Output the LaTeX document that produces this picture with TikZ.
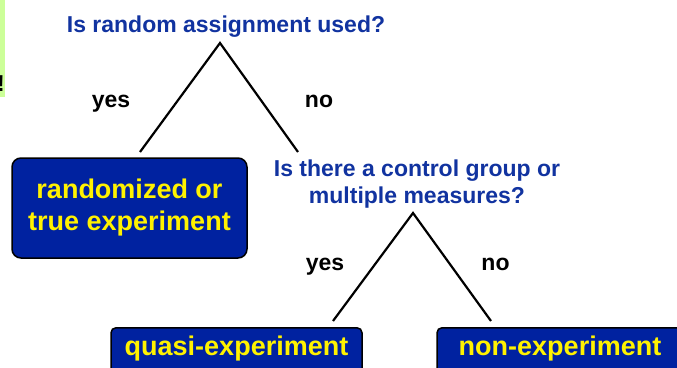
\documentclass[tikz,border=0pt]{standalone}
\usepackage{fontspec}
\setmainfont{Liberation Sans}
\definecolor{qblue}{HTML}{1133A0}
\definecolor{boxblue}{HTML}{0022A0}
\definecolor{notegreen}{HTML}{CCFF99}
\tikzset{question/.style = {text=qblue, font=\bfseries\fontsize{23}{27}\selectfont,
                            align=center, inner sep=0pt},
         answer/.style   = {font=\bfseries\fontsize{23}{27}\selectfont, inner sep=0pt},
         result/.style   = {draw=black, line width=1.5pt, fill=boxblue, text=yellow,
                            font=\bfseries\fontsize{27}{32}\selectfont, align=center},
         lowresult/.style = {result, rounded corners=5pt, anchor=north, inner ysep=3pt,
                             text height=25pt, text depth=25pt},
         branch/.style   = {line width=2.2pt, line join=miter}}

\begin{document}
\begin{tikzpicture}[x=1pt, y={(0pt,-1pt)}]
    \clip (0, 0) rectangle (677, 367);
    \fill [white] (0, 0) rectangle (677, 367);

    \fill [notegreen] (0, 0) rectangle (5, 97);
    \node [answer, anchor=base] (bang) at (1, 91) {!};

    \node [question, anchor=base] (q1) at (226, 32) {Is random assignment used?};
    \coordinate (top1) at (220, 43);
    \coordinate (yes1end) at (140, 152);
    \coordinate (no1end) at (298, 152);
    \draw [branch] (yes1end) -- (top1) -- (no1end);
    \node [answer, anchor=base] (yes1) at (111, 107) {yes};
    \node [answer, anchor=base] (no1) at (319, 107) {no};

    \node [result, rounded corners=9pt, minimum width=235pt, minimum height=100pt]
      (rand) at (129.5, 208) {randomized or\\true experiment};

    \node [question, anchor=base] (q2) at (417, 203)
      {Is there a control group or\\multiple measures?};
    \coordinate (top2) at (413, 213);
    \coordinate (yes2end) at (333, 321);
    \coordinate (no2end) at (491, 321);
    \draw [branch] (yes2end) -- (top2) -- (no2end);
    \node [answer, anchor=base] (yes2) at (325, 270) {yes};
    \node [answer, anchor=base] (no2) at (495.5, 270) {no};

    \node [lowresult, minimum width=251pt] (quasi) at (236.5, 327) {quasi-experiment};
    \node [lowresult, minimum width=246pt] (non) at (560, 327) {non-experiment};
\end{tikzpicture}
\end{document}
